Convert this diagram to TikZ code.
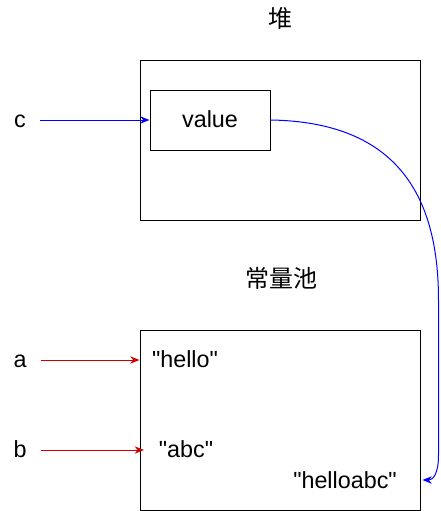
\documentclass[tikz,border=0pt]{standalone}
\usepackage{fontspec}
\setmainfont{Liberation Sans}
\newfontfamily\cjk{Noto Sans CJK SC}
\usetikzlibrary{arrows.meta,positioning}
\definecolor{refred}{RGB}{204,0,0}
\definecolor{refblue}{RGB}{0,0,255}

\begin{document}
\begin{tikzpicture}[x=0.75pt,y=-0.75pt,
	txt/.style={font=\fontsize{17.5}{20}\selectfont, inner sep=0pt, text height=12pt, text depth=1pt},
	cjklbl/.style={font=\cjk\fontsize{18}{20}\selectfont, inner sep=0pt, text height=12pt, text depth=1pt},
	box/.style={rectangle, draw=black, line width=0.75pt},
	ptr/.style={-{Stealth[length=7pt,width=5.5pt]}, line width=0.75pt}]
	\useasboundingbox (0,0) rectangle (441,511);
	\node[box, minimum width=210pt, minimum height=120pt] at (280,140) (heap) {};
	\node[box, txt, minimum width=90pt, minimum height=45pt] at (210,120) (value) {value};
	\node[box, minimum width=210pt, minimum height=135pt] at (280,420) (pool) {};
	\node[cjklbl] at (280,20) (heaplbl) {堆};
	\node[cjklbl] at (281,280) (poollbl) {常量池};
	\node[txt] at (20,120) (c) {c};
	\node[txt] at (20,360) (a) {a};
	\node[txt] at (20,450) (b) {b};
	\node[txt] at (185,360) (hello) {\textquotedbl hello\textquotedbl};
	\node[txt] at (186,450) (abc) {\textquotedbl abc\textquotedbl};
	\node[txt] at (345,481) (helloabc) {\textquotedbl helloabc\textquotedbl};
	\node[shape=coordinate] at ([xshift=10.7pt]c.east) (P1) {};
	\node[shape=coordinate] at ([xshift=10.7pt]a.east) (P2) {};
	\node[shape=coordinate] at ([xshift=10.7pt]b.east) (P3) {};
	\node[shape=coordinate] at ([xshift=-11pt]abc.west) (Q3) {};
	\node[shape=coordinate] at ([xshift=1.5pt,yshift=-45pt]pool.east) (Q4) {};
	\draw[ptr, refblue] (P1) -- (value.west);
	\draw[ptr, refred] (P2) -- (P2 -| pool.west);
	\draw[ptr, refred] (P3) -- (P3 -| Q3);
	\draw[ptr, refblue] (value.east) .. controls +(130,2) and +(0,-100) .. ++(168,180)
		-- ++(0,155) .. controls +(0,20) and +(10,0) .. (Q4);
\end{tikzpicture}
\end{document}
